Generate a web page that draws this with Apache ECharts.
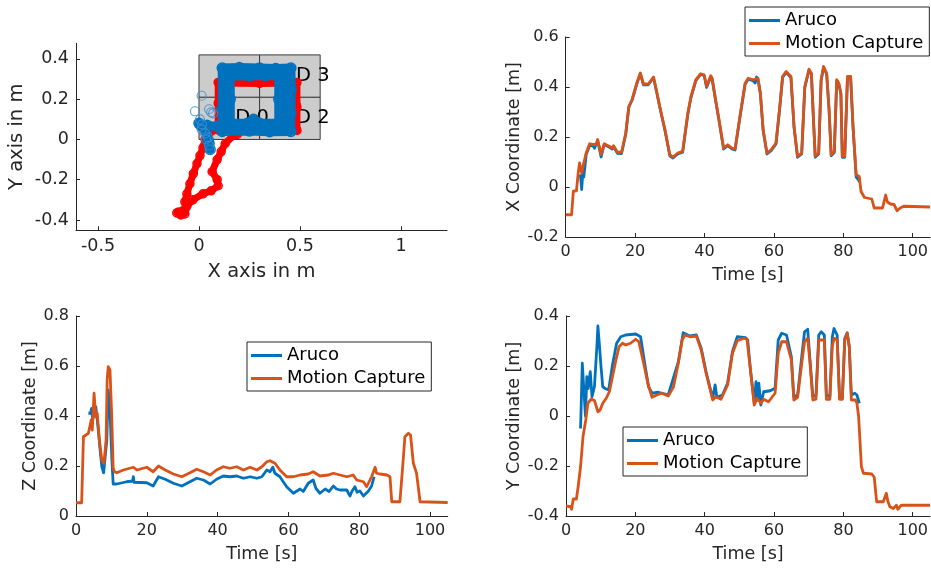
<!DOCTYPE html>
<html>
<head>
<meta charset="utf-8">
<script src="https://cdn.jsdelivr.net/npm/echarts@6/dist/echarts.min.js"></script>
<style>
  html, body { margin: 0; padding: 0; background: #fff; }
  #chart { width: 931px; height: 568px; }
</style>
</head>
<body>
<div id="chart"></div>
<script>
// ---- Time series: [time in s, coordinate in m] ----
const xAruco = [[4.0,0.05],[4.3,0.04],[4.6,-0.01],[4.9,0.05],[5.2,0.04],[5.6,0.09],[5.9,0.13],[6.9,0.166],[7.8,0.166],[8.3,0.155],[8.8,0.15],[9.2,0.186],[10.2,0.12],[11.1,0.17],[12.5,0.16],[13.4,0.152],[13.8,0.161],[14.9,0.135],[16.1,0.134],[17.3,0.21],[18.2,0.32],[19.1,0.346],[20.5,0.413],[21.5,0.453],[22.4,0.409],[23.8,0.409],[25.3,0.437],[26.2,0.38],[27.2,0.313],[28.6,0.226],[30.0,0.125],[30.9,0.116],[32.3,0.132],[33.7,0.139],[35.2,0.292],[36.1,0.358],[37.5,0.425],[38.9,0.45],[39.9,0.446],[40.6,0.398],[41.8,0.441],[42.2,0.431],[43.2,0.345],[44.1,0.272],[45.5,0.152],[46.7,0.165],[47.9,0.152],[48.8,0.148],[50.2,0.278],[51.7,0.411],[52.6,0.431],[54.0,0.425],[54.6,0.416],[55.0,0.44],[55.4,0.431],[56.1,0.372],[56.9,0.225],[58.0,0.132],[59.2,0.145],[60.6,0.172],[61.6,0.305],[62.5,0.438],[63.5,0.458],[64.9,0.438],[65.8,0.238],[66.8,0.119],[68.0,0.132],[68.9,0.398],[70.1,0.467],[70.8,0.451],[71.5,0.238],[71.9,0.119],[72.9,0.132],[73.6,0.425],[74.3,0.478],[75.2,0.451],[75.9,0.305],[76.5,0.125],[77.4,0.138],[78.1,0.425],[78.7,0.411],[79.3,0.372],[79.7,0.119],[80.4,0.119],[81.2,0.438],[82.1,0.438],[82.8,0.238],[83.7,0.04],[84.3,0.03],[84.7,0.02]];
const xMocap = [[0,-0.111],[1.7,-0.111],[2.2,-0.017],[3.1,-0.015],[3.6,0.056],[4.0,0.096],[4.6,0.056],[5.2,0.096],[5.9,0.136],[6.9,0.173],[7.8,0.17],[8.8,0.17],[9.2,0.19],[10.2,0.13],[11.1,0.173],[12.5,0.163],[13.4,0.156],[13.8,0.165],[14.9,0.139],[16.1,0.139],[17.3,0.216],[18.2,0.323],[19.1,0.349],[20.5,0.416],[21.5,0.456],[22.4,0.412],[23.8,0.412],[25.3,0.44],[26.2,0.383],[27.2,0.316],[28.6,0.23],[30.0,0.129],[30.9,0.12],[32.3,0.136],[33.7,0.143],[35.2,0.296],[36.1,0.362],[37.5,0.429],[38.9,0.453],[39.9,0.449],[40.6,0.402],[41.8,0.445],[42.2,0.435],[43.2,0.349],[44.1,0.276],[45.5,0.156],[46.7,0.169],[47.9,0.156],[48.8,0.152],[50.2,0.282],[51.7,0.415],[52.6,0.435],[54.0,0.429],[55.4,0.435],[56.1,0.376],[56.9,0.229],[58.0,0.136],[59.2,0.149],[60.6,0.176],[61.6,0.309],[62.5,0.442],[63.5,0.462],[64.9,0.442],[65.8,0.242],[66.8,0.123],[68.0,0.136],[68.9,0.402],[70.1,0.471],[70.8,0.455],[71.5,0.242],[71.9,0.123],[72.9,0.136],[73.6,0.429],[74.3,0.482],[75.2,0.455],[75.9,0.309],[76.5,0.129],[77.4,0.142],[78.1,0.429],[78.7,0.415],[79.3,0.376],[79.7,0.123],[80.4,0.123],[81.2,0.442],[82.1,0.442],[82.8,0.242],[83.7,0.049],[84.6,0.042],[85.1,-0.018],[86.1,-0.042],[88.2,-0.048],[88.9,-0.084],[91.3,-0.084],[92.2,-0.032],[92.7,-0.06],[93.6,-0.068],[94.6,-0.07],[95.5,-0.095],[96.4,-0.084],[97.4,-0.077],[105,-0.08]];

const yAruco = [[4.2,-0.05],[4.3,0.0],[4.7,0.211],[5.1,0.117],[5.6,0.0],[6.0,0.157],[6.4,0.11],[7.0,0.177],[7.5,0.077],[8.2,0.117],[8.9,0.277],[9.2,0.36],[9.6,0.291],[10.1,0.197],[10.6,0.117],[11.3,0.11],[12.3,0.104],[13.4,0.204],[14.6,0.291],[15.8,0.317],[17.2,0.324],[20.1,0.328],[21.5,0.317],[22.4,0.237],[23.8,0.117],[24.8,0.091],[25.2,0.085],[26.6,0.095],[29.5,0.085],[32.4,0.217],[33.8,0.333],[35.7,0.32],[37.6,0.324],[39.0,0.271],[40.4,0.177],[42.3,0.071],[43.0,0.124],[43.5,0.075],[45.1,0.084],[46.6,0.131],[48.0,0.257],[49.4,0.317],[51.8,0.313],[52.4,0.304],[53.2,0.184],[54.3,0.051],[54.8,0.137],[55.2,0.064],[55.6,0.131],[56.2,0.044],[57.0,0.097],[58.9,0.101],[60.3,0.111],[61.2,0.304],[62.2,0.331],[63.6,0.324],[65.0,0.237],[65.7,0.077],[66.8,0.084],[68.1,0.251],[68.8,0.337],[69.7,0.347],[70.3,0.237],[71.2,0.077],[72.1,0.084],[72.9,0.324],[73.6,0.337],[74.5,0.324],[75.1,0.084],[76.1,0.077],[76.8,0.317],[77.3,0.35],[78.2,0.324],[78.9,0.071],[79.7,0.071],[80.4,0.311],[81.1,0.333],[81.7,0.277],[82.3,0.084],[83.3,0.091],[83.9,0.084],[84.6,0.051]];
const yMocap = [[0,-0.36],[1.3,-0.363],[1.6,-0.373],[2.1,-0.332],[3.0,-0.332],[3.5,-0.283],[4.2,-0.203],[4.9,-0.083],[5.7,-0.016],[6.3,0.051],[7.3,0.068],[8.2,0.062],[9.2,0.017],[9.8,0.023],[10.6,0.051],[11.6,0.071],[12.5,0.097],[13.4,0.157],[14.4,0.224],[15.3,0.277],[16.3,0.291],[17.2,0.284],[18.6,0.291],[20.1,0.307],[21.0,0.297],[22.4,0.211],[23.6,0.131],[24.8,0.075],[26.2,0.084],[27.6,0.091],[29.5,0.08],[31.0,0.117],[32.4,0.211],[33.5,0.304],[34.3,0.324],[35.7,0.317],[37.6,0.32],[39.0,0.264],[40.4,0.171],[41.6,0.104],[42.3,0.064],[43.2,0.077],[44.7,0.067],[46.6,0.124],[48.0,0.251],[49.4,0.301],[51.3,0.311],[52.2,0.307],[53.2,0.184],[54.3,0.044],[55.1,0.071],[56.2,0.051],[57.0,0.067],[58.4,0.057],[60.3,0.091],[61.2,0.251],[62.2,0.297],[63.6,0.297],[65.0,0.224],[65.7,0.064],[66.8,0.075],[68.1,0.224],[68.8,0.297],[69.7,0.311],[70.3,0.224],[71.2,0.064],[72.1,0.067],[72.9,0.304],[74.5,0.304],[75.1,0.067],[76.1,0.067],[76.8,0.277],[77.3,0.311],[78.2,0.304],[78.9,0.067],[79.7,0.067],[80.4,0.304],[81.1,0.331],[81.7,0.277],[82.3,0.064],[83.5,0.064],[83.9,0.051],[84.4,-0.003],[85.2,-0.203],[85.8,-0.229],[88.2,-0.232],[88.9,-0.245],[89.6,-0.343],[91.5,-0.343],[92.4,-0.309],[92.8,-0.34],[93.4,-0.363],[94.4,-0.37],[95.3,-0.357],[95.7,-0.373],[96.7,-0.357],[98.6,-0.357],[105,-0.357]];

const zAruco = [[3.5,0.411],[4.1,0.411],[4.4,0.43],[4.7,0.384],[5.6,0.437],[6.3,0.344],[6.8,0.264],[7.3,0.197],[7.8,0.173],[8.2,0.173],[8.7,0.304],[9.1,0.504],[9.6,0.424],[10.1,0.237],[10.5,0.128],[11.5,0.128],[14.3,0.137],[16.0,0.14],[16.2,0.157],[16.4,0.135],[20.0,0.133],[21.8,0.12],[23.3,0.157],[25.2,0.147],[27.5,0.131],[29.9,0.12],[32.2,0.137],[34.1,0.151],[36.0,0.144],[37.9,0.128],[39.7,0.147],[41.6,0.16],[43.5,0.157],[45.4,0.16],[47.3,0.151],[49.2,0.157],[51.1,0.151],[52.5,0.157],[53.9,0.184],[54.8,0.177],[55.6,0.195],[56.2,0.171],[57.6,0.157],[59.5,0.117],[61.4,0.091],[63.3,0.108],[64.2,0.098],[65.6,0.131],[67.0,0.144],[67.8,0.11],[68.9,0.091],[70.4,0.108],[71.5,0.098],[72.7,0.12],[73.6,0.108],[74.6,0.104],[76.5,0.104],[77.0,0.09],[77.4,0.08],[78.0,0.1],[78.8,0.117],[79.4,0.095],[80.2,0.1],[81.2,0.08],[82.6,0.1],[83.5,0.12],[84.2,0.157]];
const zMocap = [[0,0.053],[1.6,0.053],[2.1,0.317],[3.5,0.331],[3.9,0.357],[4.3,0.384],[4.6,0.344],[5.1,0.491],[5.6,0.397],[6.0,0.411],[6.6,0.304],[7.3,0.224],[7.9,0.211],[8.5,0.304],[8.8,0.544],[9.1,0.597],[9.6,0.584],[10.1,0.397],[10.5,0.191],[10.9,0.177],[11.5,0.173],[13.4,0.184],[16.2,0.195],[17.2,0.184],[20.0,0.195],[21.8,0.177],[23.3,0.2],[25.2,0.184],[27.5,0.168],[29.9,0.157],[32.2,0.173],[34.1,0.187],[36.0,0.177],[37.9,0.164],[39.7,0.184],[41.6,0.197],[43.5,0.191],[45.4,0.197],[47.3,0.184],[49.2,0.195],[51.1,0.184],[52.5,0.197],[53.9,0.217],[54.8,0.221],[56.2,0.211],[57.6,0.184],[59.5,0.157],[61.4,0.157],[63.3,0.164],[65.6,0.168],[67.0,0.177],[68.9,0.16],[71.3,0.164],[72.7,0.171],[74.6,0.164],[76.5,0.157],[78.3,0.164],[79.3,0.144],[81.2,0.137],[82.1,0.117],[83.5,0.157],[84.5,0.195],[84.9,0.171],[85.9,0.168],[87.8,0.164],[88.7,0.157],[89.2,0.057],[91.5,0.057],[92.5,0.237],[92.9,0.317],[93.9,0.331],[94.5,0.324],[95.3,0.211],[96.2,0.171],[97.2,0.057],[105,0.054]];

// ---- Floor-plane trajectory: [X in m, Y in m] ----
const trackMocap = [[-0.10,-0.36],[-0.11,-0.365],[-0.09,-0.375],[-0.07,-0.37],[-0.065,-0.34],[-0.07,-0.31],[-0.06,-0.27],[-0.045,-0.22],[-0.028,-0.17],[-0.01,-0.12],[0.005,-0.08],[0.02,-0.04],[0.03,0.0],[0.06,0.04],[0.09,0.05],[0.095,0.06],[0.095,0.18],[0.095,0.283],[0.3,0.283],[0.485,0.283],[0.485,0.16],[0.485,0.045],[0.3,0.045],[0.1,0.045],[0.1,0.18],[0.1,0.28],[0.3,0.278],[0.48,0.28],[0.482,0.17],[0.482,0.05],[0.3,0.05],[0.2,0.04],[0.19,0.025],[0.17,0.02],[0.13,-0.02],[0.11,-0.06],[0.09,-0.1],[0.065,-0.16],[0.09,-0.2],[0.095,-0.23],[0.06,-0.255],[0.02,-0.27],[-0.03,-0.3],[-0.06,-0.33],[-0.08,-0.355],[-0.09,-0.37]];
const trackAruco = [[0.055,-0.05],[0.05,-0.02],[0.045,0.0],[0.035,0.04],[0.01,0.07],[0.0,0.08],[0.04,0.07],[0.09,0.065],[0.135,0.06],[0.135,0.2],[0.135,0.335],[0.22,0.338],[0.3,0.332],[0.36,0.336],[0.425,0.335],[0.428,0.25],[0.425,0.16],[0.425,0.06],[0.36,0.058],[0.3,0.062],[0.22,0.058],[0.135,0.06],[0.115,0.15],[0.115,0.355],[0.2,0.357],[0.3,0.355],[0.38,0.352],[0.455,0.355],[0.457,0.25],[0.455,0.13],[0.455,0.04],[0.35,0.038],[0.25,0.042],[0.115,0.04],[0.115,0.15],[0.155,0.08],[0.155,0.2],[0.155,0.315],[0.25,0.315],[0.33,0.318],[0.395,0.315],[0.395,0.2],[0.395,0.08],[0.3,0.08],[0.27,0.1],[0.24,0.08],[0.155,0.08]];
const arucoStrays = [[0.013,0.217],[-0.02,0.14],[0.05,0.15],[0.06,0.135],[0.07,0.13],[0.005,0.1],[0.015,0.075],[0.013,0.05],[0.045,0.01],[0.05,-0.03],[0.055,-0.05],[0.035,0.0],[0.03,0.03]];

// Marker cells on the floor: [x0, y0, x1, y1] and their names
const tagCells = [[0,0,0.3,0.21],[0.3,0,0.6,0.21],[0,0.21,0.3,0.42],[0.3,0.21,0.6,0.42]];
const tagNames = ['D 0','D 2','D 1','D 3'];
const tagLabelPos = [[0.18,0.105],[0.48,0.105],[0.18,0.315],[0.48,0.315]];

// Tick labels
const timeTicks = [0,20,40,60,80,100];
const planeXTicks = [-0.5,0,0.5,1];
const planeYTicks = [-0.4,-0.2,0,0.2,0.4];
const xCoordTicks = [-0.2,0,0.2,0.4,0.6];
const zCoordTicks = [0,0.2,0.4,0.6,0.8];
const yCoordTicks = [-0.4,-0.2,0,0.2,0.4];

const BLUE = '#0072BD', ORANGE = '#D95319', INK = '#262626';
const FONT = 'DejaVu Sans';

function axis(gridIndex, min, max, ticks, opts) {
  const fs = opts.fontSize || 16;
  return Object.assign({
    type: 'value', gridIndex, min, max,
    axisLine: { show: true, onZero: false, lineStyle: { color: INK, width: 1 } },
    axisTick: { show: true, inside: true, length: 4, customValues: ticks, lineStyle: { color: INK } },
    axisLabel: { customValues: ticks, color: INK, fontSize: fs, fontFamily: FONT, margin: 7 },
    splitLine: { show: false },
    nameLocation: 'middle',
    nameTextStyle: { color: INK, fontSize: opts.nameSize || 17.5, fontFamily: FONT }
  }, opts.extra || {});
}

function lineSeries(name, data, color, xi, yi) {
  return {
    name, type: 'line', data, xAxisIndex: xi, yAxisIndex: yi,
    showSymbol: false, symbol: 'none', animation: false,
    lineStyle: { color, width: 2.8, join: 'round' }, itemStyle: { color }, z: name === 'Aruco' ? 2 : 3
  };
}

function legendAt(left, top) {
  return {
    left, top, orient: 'vertical', data: ['Aruco', 'Motion Capture'],
    icon: 'rect', itemWidth: 31, itemHeight: 3, itemGap: 4,
    padding: [4, 6, 3, 4], borderColor: INK, borderWidth: 1, backgroundColor: '#fff',
    selectedMode: false,
    textStyle: { color: '#000', fontSize: 18, fontFamily: FONT, lineHeight: 19 }
  };
}

const option = {
  animation: false,
  backgroundColor: '#fff',
  grid: [
    { left: 76, top: 43.3, width: 371, height: 187 },
    { left: 565.7, top: 37, width: 371, height: 200 },
    { left: 76, top: 316, width: 371.7, height: 200 },
    { left: 566, top: 316, width: 370, height: 200 }
  ],
  xAxis: [
    axis(0, -0.609, 1.228, planeXTicks, { fontSize: 17.5, nameSize: 19.5, extra: { name: 'X axis in m', nameGap: 32 } }),
    axis(1, 0, 105, timeTicks, { extra: { name: 'Time [s]', nameGap: 29 } }),
    axis(2, 0, 105, timeTicks, { extra: { name: 'Time [s]', nameGap: 29 } }),
    axis(3, 0, 105, timeTicks, { extra: { name: 'Time [s]', nameGap: 29 } })
  ],
  yAxis: [
    axis(0, -0.4512, 0.4776, planeYTicks, { fontSize: 17.5, nameSize: 19.5, extra: { name: 'Y axis in m', nameGap: 49 } }),
    axis(1, -0.2, 0.6, xCoordTicks, { extra: { name: 'X Coordinate [m]', nameGap: 41 } }),
    axis(2, 0, 0.8, zCoordTicks, { extra: { name: 'Z Coordinate [m]', nameGap: 35 } }),
    axis(3, -0.4, 0.4, yCoordTicks, { extra: { name: 'Y Coordinate [m]', nameGap: 42 } })
  ],
  legend: [legendAt(745, 7), legendAt(247, 342), legendAt(623, 427)],
  series: [
    {
      name: 'tag cells', type: 'custom', xAxisIndex: 0, yAxisIndex: 0, z: 1,
      data: tagCells, silent: true,
      renderItem: function (params, api) {
        const a = api.coord([api.value(0), api.value(3)]);
        const b = api.coord([api.value(2), api.value(1)]);
        return { type: 'rect', shape: { x: a[0], y: a[1], width: b[0] - a[0], height: b[1] - a[1] },
                 style: { fill: '#cccccc', stroke: '#3a3a3a', lineWidth: 1 } };
      }
    },
    {
      name: 'tag names', type: 'custom', xAxisIndex: 0, yAxisIndex: 0, z: 2,
      data: tagLabelPos.map((p, i) => [p[0], p[1], i]), silent: true,
      renderItem: function (params, api) {
        const p = api.coord([api.value(0), api.value(1)]);
        return { type: 'text', x: p[0], y: p[1],
                 style: { text: tagNames[api.value(2)], fill: '#000', fontSize: 19.5, fontFamily: FONT,
                          align: 'left', verticalAlign: 'middle' } };
      }
    },
    {
      name: 'mocap track', type: 'line', xAxisIndex: 0, yAxisIndex: 0, z: 3, data: trackMocap,
      symbol: 'circle', symbolSize: 8, showSymbol: true,
      lineStyle: { color: '#ff0000', width: 7, cap: 'round', join: 'round' },
      itemStyle: { color: 'rgba(0,0,0,0)', borderColor: '#ff0000', borderWidth: 1.5 }
    },
    {
      name: 'aruco track', type: 'line', xAxisIndex: 0, yAxisIndex: 0, z: 4, data: trackAruco,
      symbol: 'circle', symbolSize: 10, showSymbol: true,
      lineStyle: { color: BLUE, width: 9, cap: 'round', join: 'round' },
      itemStyle: { color: 'rgba(0,0,0,0)', borderColor: BLUE, borderWidth: 1.5 }
    },
    {
      name: 'aruco strays', type: 'scatter', xAxisIndex: 0, yAxisIndex: 0, z: 4, data: arucoStrays,
      symbol: 'circle', symbolSize: 9,
      itemStyle: { color: 'rgba(0,0,0,0)', borderColor: '#3f8fcf', borderWidth: 1.2 }
    },
    lineSeries('Aruco', xAruco, BLUE, 1, 1),
    lineSeries('Motion Capture', xMocap, ORANGE, 1, 1),
    lineSeries('Aruco', zAruco, BLUE, 2, 2),
    lineSeries('Motion Capture', zMocap, ORANGE, 2, 2),
    lineSeries('Aruco', yAruco, BLUE, 3, 3),
    lineSeries('Motion Capture', yMocap, ORANGE, 3, 3)
  ]
};

const chart = echarts.init(document.getElementById('chart'), null, { renderer: 'canvas' });
chart.setOption(option);
</script>
</body>
</html>
